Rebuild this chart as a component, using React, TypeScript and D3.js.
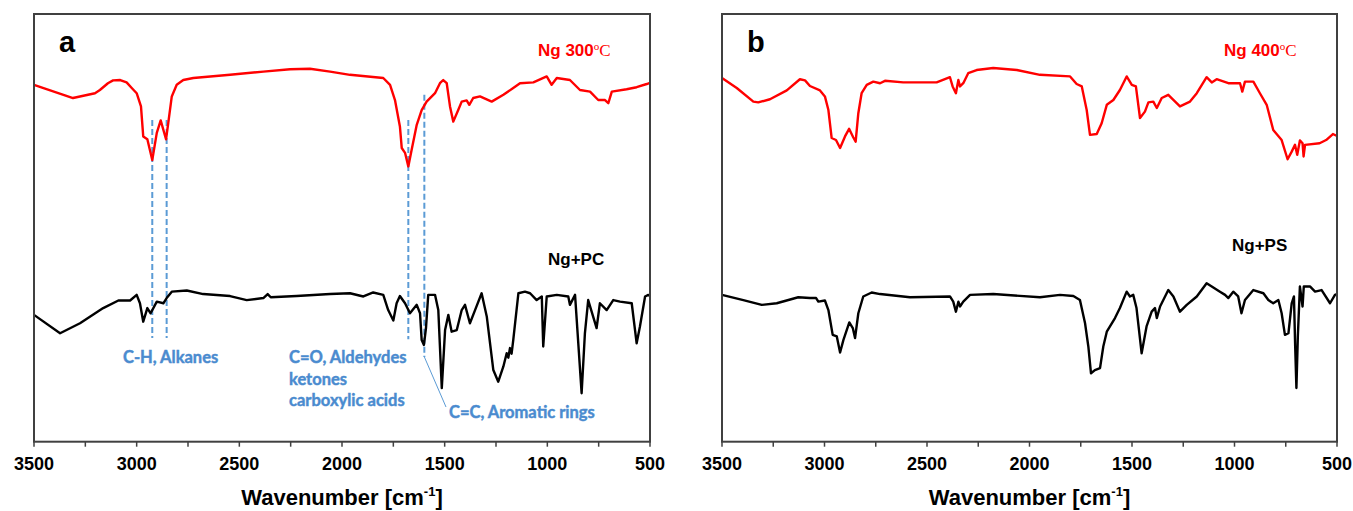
import React from 'react';
import * as d3 from 'd3';

// ---------- data (wavenumber cm-1, relative transmittance a.u.) ----------
const ng300: [number, number][] = [[3500,89.2],[3310,85.9],[3203,87.1],[3179,87.9],[3140,89.6],[3115,90.3],[3080,90.4],[3049,89.8],[3024,88.4],[3000,87.1],[2979,83.8],[2968,76.3],[2948,75.6],[2924,70.4],[2902,77.2],[2883,80.3],[2857,75.6],[2846,79.7],[2829,86.3],[2805,89.2],[2773,90.4],[2724,90.9],[2545,91.7],[2383,92.5],[2253,93.1],[2156,93.2],[2058,92.5],[1961,91.7],[1799,90.9],[1766,89.2],[1742,85.4],[1718,78.8],[1709,73.4],[1693,72.2],[1677,68.8],[1661,72.9],[1636,79.2],[1612,82.9],[1588,85.0],[1547,87.1],[1523,89.6],[1507,90.4],[1490,89.6],[1474,83.8],[1458,80.0],[1434,82.9],[1417,85.0],[1393,85.3],[1380,84.2],[1361,85.9],[1328,86.3],[1271,85.0],[1214,86.7],[1166,88.4],[1133,89.6],[1068,89.8],[1003,91.3],[979,89.2],[954,90.9],[890,90.4],[841,87.9],[792,87.5],[752,85.4],[719,85.4],[703,84.6],[686,87.5],[614,88.1],[565,88.6],[516,89.4],[500,89.7]];

const ngPC: [number, number][] = [[3500,31.7],[3373,27.1],[3276,29.6],[3163,33.4],[3089,35.3],[3032,35.3],[3000,36.7],[2984,34.6],[2968,30.0],[2948,33.4],[2932,32.1],[2902,35.0],[2870,34.6],[2854,35.9],[2829,37.5],[2756,37.8],[2676,36.9],[2545,36.4],[2464,35.4],[2383,35.9],[2362,36.9],[2347,36.1],[2221,36.4],[2058,36.9],[1961,37.1],[1896,36.3],[1848,37.3],[1799,36.7],[1775,32.9],[1750,30.3],[1734,34.6],[1718,36.4],[1693,34.6],[1669,32.1],[1636,34.2],[1620,32.1],[1612,25.4],[1601,24.2],[1591,28.4],[1580,36.7],[1547,36.7],[1531,32.9],[1514,13.4],[1498,27.9],[1482,31.7],[1466,27.5],[1441,27.9],[1417,32.9],[1401,34.2],[1377,29.6],[1352,32.9],[1320,37.1],[1295,31.3],[1263,17.9],[1239,15.0],[1214,18.8],[1198,22.1],[1190,21.0],[1182,23.4],[1174,22.0],[1166,25.4],[1141,37.1],[1109,37.5],[1084,37.1],[1052,35.4],[1027,36.3],[1020,23.8],[1003,36.3],[954,36.7],[898,36.3],[890,34.2],[865,36.7],[833,12.1],[817,27.1],[801,35.4],[760,28.4],[744,34.6],[711,32.9],[679,35.4],[646,35.0],[589,34.6],[565,24.6],[549,28.8],[524,36.3],[508,36.7],[500,36.4]];

const ng400: [number, number][] = [[3500,90.9],[3428,88.4],[3347,85.0],[3323,84.8],[3266,85.6],[3184,87.8],[3120,90.6],[3095,90.3],[3071,88.9],[3022,87.8],[2998,86.3],[2981,82.9],[2965,75.9],[2944,75.4],[2924,73.4],[2900,76.3],[2880,78.2],[2860,76.1],[2848,75.0],[2835,82.1],[2819,87.1],[2794,89.2],[2762,90.0],[2729,89.6],[2705,90.2],[2616,89.8],[2453,89.8],[2388,91.1],[2375,88.8],[2359,87.1],[2347,90.4],[2339,88.8],[2323,89.6],[2299,92.1],[2258,92.9],[2177,93.4],[2062,92.9],[1949,91.7],[1802,91.3],[1770,89.4],[1745,88.8],[1721,82.9],[1705,76.7],[1672,76.9],[1648,79.6],[1623,84.2],[1591,85.4],[1559,87.9],[1526,91.3],[1501,89.2],[1481,88.8],[1461,80.9],[1437,82.5],[1420,84.8],[1396,85.0],[1379,83.4],[1355,85.9],[1323,86.7],[1266,83.8],[1217,85.0],[1184,87.1],[1136,91.1],[1111,89.8],[1087,90.6],[1030,89.6],[973,89.6],[962,87.5],[949,90.0],[908,90.0],[876,87.1],[843,84.2],[811,77.9],[770,75.4],[741,70.6],[721,72.5],[705,74.2],[694,71.7],[681,75.3],[668,74.6],[663,71.3],[656,74.2],[585,74.6],[553,75.4],[520,76.9],[500,76.4]];

const ngPS: [number, number][] = [[3500,36.7],[3396,35.4],[3306,34.2],[3233,34.6],[3128,36.1],[3071,35.9],[3041,35.9],[3030,35.0],[2998,35.3],[2981,32.9],[2960,26.7],[2940,26.3],[2924,22.3],[2908,25.4],[2879,29.8],[2862,28.4],[2851,25.9],[2835,32.1],[2811,36.3],[2770,37.3],[2729,36.9],[2583,36.1],[2388,36.3],[2372,35.0],[2359,32.5],[2347,35.0],[2339,33.8],[2323,35.0],[2290,36.7],[2177,36.9],[1949,36.1],[1851,36.7],[1786,36.4],[1754,35.4],[1729,29.6],[1713,23.8],[1700,17.1],[1681,17.9],[1656,18.4],[1640,23.8],[1623,27.5],[1583,30.9],[1559,33.4],[1526,37.5],[1510,36.3],[1494,36.7],[1478,33.4],[1453,22.1],[1429,28.8],[1404,32.5],[1388,33.4],[1379,30.9],[1363,33.8],[1323,37.9],[1298,36.3],[1266,32.5],[1233,34.2],[1184,36.3],[1136,39.6],[1111,38.8],[1071,37.5],[1046,36.7],[1030,35.9],[1006,37.5],[982,36.3],[966,32.1],[949,35.4],[908,37.9],[859,37.1],[835,35.4],[811,34.6],[786,35.4],[770,32.1],[754,26.7],[737,27.1],[721,34.6],[710,36.3],[704,23.8],[698,13.4],[691,26.3],[681,38.8],[668,33.8],[662,38.8],[632,38.8],[607,37.5],[575,37.9],[534,34.6],[510,36.7],[500,36.9]];

const majorTicks = [3500, 3000, 2500, 2000, 1500, 1000, 500];
const minorTicks = [3250, 2750, 2250, 1750, 1250, 750];

// band markers in panel a: wavenumber, top, bottom (a.u.)
const markerWn = [2924, 2854, 1677, 1599];
const markerTop = [80.4, 80.4, 80.4, 86.7];
const markerBottom = [25.9, 25.9, 25.6, 21.2];

const RED = '#ff0000';
const BLUE_LINE = '#5b9bd5';
const BLUE_TEXT = '#4a8bcf';
const FRAME = '#404040';
const SANS = '"Liberation Sans", Arial, sans-serif';
const CAL = 'Lato, "Open Sans", sans-serif';

const TOP = 14;
const BOTTOM = 441.7;

type PanelProps = {
  left: number;
  right: number;
  letter: string;
  red: [number, number][];
  black: [number, number][];
  redLabel: string;
  blackLabel: string;
  redLabelX: number;
  blackLabelX: number;
  blackLabelY: number;
  annotate?: boolean;
};

function Panel(p: PanelProps) {
  const x = d3.scaleLinear().domain([3500, 500]).range([p.left, p.right]);
  const y = d3.scaleLinear().domain([0, 106.9]).range([BOTTOM, TOP]);
  const line = d3
    .line<[number, number]>()
    .x((d) => x(d[0]))
    .y((d) => y(d[1]));
  const cx = (p.left + p.right) / 2;
  return (
    <g>
      {p.annotate &&
        markerWn.map((w, i) => (
          <line
            key={'m' + i}
            x1={x(w)}
            x2={x(w)}
            y1={y(markerTop[i])}
            y2={y(markerBottom[i])}
            stroke={BLUE_LINE}
            strokeWidth={2}
            strokeDasharray="6,3"
          />
        ))}
      <path d={line(p.red) || ''} fill="none" stroke={RED} strokeWidth={2.4} strokeLinejoin="round" />
      <path d={line(p.black) || ''} fill="none" stroke="#000" strokeWidth={2.4} strokeLinejoin="round" />
      <rect
        x={p.left}
        y={TOP}
        width={p.right - p.left}
        height={BOTTOM - TOP}
        fill="none"
        stroke={FRAME}
        strokeWidth={2}
      />
      {majorTicks.concat(minorTicks).map((t) => (
        <line key={'t' + t} x1={x(t)} x2={x(t)} y1={BOTTOM} y2={BOTTOM + 5} stroke={FRAME} strokeWidth={1.5} />
      ))}
      {majorTicks.map((t) => (
        <text
          key={'l' + t}
          x={x(t)}
          y={470}
          textAnchor="middle"
          fontFamily={SANS}
          fontWeight="bold"
          fontSize={18}
          fill="#000"
        >
          {t}
        </text>
      ))}
      <text x={cx} y={505} textAnchor="middle" fontFamily={SANS} fontWeight="bold" fontSize={22} fill="#000">
        <tspan>Wavenumber [cm</tspan>
        <tspan dy={-9} fontSize={13}>-1</tspan>
        <tspan dy={9}>]</tspan>
      </text>
      <text x={p.left + 25} y={52} fontFamily={SANS} fontWeight="bold" fontSize={29} fill="#000">
        {p.letter}
      </text>
      <text x={p.redLabelX} y={56} fontFamily={SANS} fontWeight="bold" fontSize={17} fill={RED}>
        <tspan>{p.redLabel}</tspan>
        <tspan fontFamily='"Liberation Serif", serif' fontWeight="normal" fontSize={11} dy={-6}>o</tspan>
        <tspan fontFamily='"Liberation Serif", serif' fontWeight="normal" fontSize={17} dy={6}>C</tspan>
      </text>
      <text x={p.blackLabelX} y={p.blackLabelY} fontFamily={SANS} fontWeight="bold" fontSize={17} fill="#000">
        {p.blackLabel}
      </text>
      {p.annotate && (
        <g>
          <g
            fontFamily={CAL}
            fontWeight={700}
            fontSize={16.5}
            fill={BLUE_TEXT}
            stroke={BLUE_TEXT}
            strokeWidth={0.45}
          >
            <text x={123} y={363}>C-H, Alkanes</text>
            <text x={289} y={363}>C=O, Aldehydes</text>
            <text x={289} y={385}>ketones</text>
            <text x={289} y={406}>carboxylic acids</text>
            <text x={449} y={418}>C=C, Aromatic rings</text>
          </g>
          <line x1={x(markerWn[3])} y1={y(markerBottom[3])} x2={446} y2={407} stroke={BLUE_LINE} strokeWidth={1} />
        </g>
      )}
    </g>
  );
}

export default function App() {
  return (
    <svg
      width={1353}
      height={511}
      style={{ position: 'absolute', left: 0, top: 0, background: '#fff' }}
    >
      <rect x={0} y={0} width={1353} height={511} fill="#fff" />
      <Panel
        left={34}
        right={650}
        letter="a"
        red={ng300}
        black={ngPC}
        redLabel="Ng 300"
        blackLabel="Ng+PC"
        redLabelX={538}
        blackLabelX={548}
        blackLabelY={265}
        annotate
      />
      <Panel
        left={722}
        right={1337}
        letter="b"
        red={ng400}
        black={ngPS}
        redLabel="Ng 400"
        blackLabel="Ng+PS"
        redLabelX={1224}
        blackLabelX={1232}
        blackLabelY={251}
      />
    </svg>
  );
}
